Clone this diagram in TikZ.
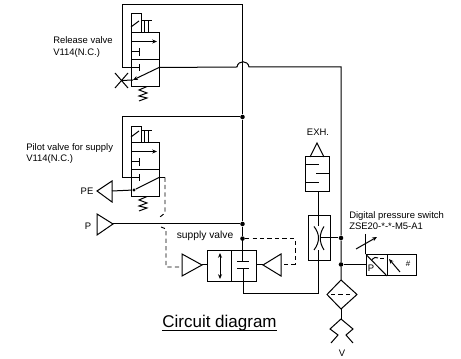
\documentclass[tikz,border=0pt]{standalone}
\usepackage{fontspec}
\setmainfont{Liberation Sans}
\usetikzlibrary{arrows.meta}

\tikzset{
  pipe/.style={black,line width=0.75pt},
  pilot/.style={black,line width=0.7pt,dash pattern=on 3.2pt off 2.4pt},
  junct/.style={circle,fill=black,minimum size=3.4pt,inner sep=0pt},
  lbl/.style={font=\fontsize{7.1}{8.6}\selectfont,align=left,inner sep=0pt},
  tip/.style={-{Stealth[length=3.6pt,width=3pt]}}
}

\begin{document}
\begin{tikzpicture}[x=0.75pt,y=-0.75pt]
\useasboundingbox (0,0) rectangle (461,359);
% junctions and pipe ends
\coordinate (topa) at (242.5,5);
\node [junct] (topb) at (242.5,117) {};
\node [junct] (jp) at (242.5,224) {};
\node [junct] (jsup) at (242.5,238.6) {};
\coordinate (mouth) at (242.5,262);
\node [junct] (jthr) at (341,238) {};
\node [junct] (jsw) at (341,264.5) {};
\coordinate (corner) at (341,67);
\coordinate (hopl) at (237,67);
\coordinate (hopr) at (249,67);
% the two small valves
\foreach \dy/\st/\n in {0/14/a,110/17/b} {
\begin{scope}[shift={(0,\dy)}]
\draw [pipe] (131,33) rectangle (159,86.5);
\draw [pipe] (131,59.5) -- (159,59.5);
\draw [pipe] (131,33) -- (131,\st) -- (141,\st) -- (141,33);
\draw [pipe] (131,27) -- (139,21);
\draw [pipe] (142,20.5) -- (152,20.5);
\draw [pipe] (144.5,20.5) -- (144.5,33);
\draw [pipe] (148,20.5) -- (148,33);
\draw [pipe,tip] (131,41.5) -- (157,41.5);
\draw [pipe] (131,52) -- (139,52);
\draw [pipe] (139,48) -- (139,56);
\draw [pipe] (139,64) -- (139,71);
\draw [pipe] (147,86.5) -- (139,90) -- (147,93) -- (139,96) -- (147,98) -- (139,101);
\coordinate (tee\n) at (139,67.5);
\coordinate (out\n) at (159,67.5);
\coordinate (seat\n) at (133,80);
\end{scope}
}
\coordinate (benda) at (122,5);
\coordinate (bendb) at (122,117);
\draw [pipe] (topa) -- (benda) |- (teea);
\draw [pipe] (topb) -- (bendb) |- (teeb);
% main line
\draw [pipe] (topa) -- (topb) -- (jp) -- (jsup) -- (mouth);
\draw [pipe,tip] (outa) -- (seata);
\draw [pipe] (outa) -- (hopl) .. controls (238,60) and (248,60) .. (hopr) -- (corner) -- (jthr) -- (jsw);
% release port
\coordinate (xmid) at (121.5,80.5);
\draw [pipe] (xmid) -- (seata);
\draw [pipe] (115,73) -- (128,88);
\draw [pipe] (115,88) -- (128,73);
% PE and P ports
\coordinate (pe) at (112,191);
\node [junct,minimum size=2.6pt] (seatp) at (134,190) {};
\draw [pipe] (97,191) -- (112,181) -- (112,202) -- cycle;
\draw [pipe] (pe) -- (seatp);
\draw [pipe] (seatp) -- (outb);
\coordinate (pin) at (113,224);
\draw [pipe] (97,214) -- (113,224) -- (97,235) -- cycle;
\draw [pipe] (pin) -- (jp);
\coordinate (dashb) at (165,177.5);
\draw [pipe] (outb) -- (dashb);
% supply valve
\draw [pipe] (207,251) rectangle (256,282);
\draw [pipe] (231.5,251) -- (231.5,282);
\draw [pipe,{Stealth[length=3.6pt,width=3pt]}-{Stealth[length=3.6pt,width=3pt]}] (220,253) -- (220,279);
\draw [pipe] (237,262) -- (249,262);
\draw [pipe] (237,269) -- (249,269);
\coordinate (lcone) at (202,265);
\coordinate (rcone) at (263,265);
\draw [pipe] (182,254) -- (202,265) -- (182,276) -- cycle;
\draw [pipe] (281,254) -- (263,265) -- (281,276) -- cycle;
\draw [pipe] (lcone) -- (207,265);
\draw [pipe] (rcone) -- (256,265);
\draw [pilot] (dashb) -- (165,213) -- (160,217);
\draw [pilot] (161,227) -- (166,229) -- (166,267) -- (182,267);
\draw [pilot] (jsup) -- (295,238.6) -- (295,264) -- (281,264);
% exhaust silencer
\coordinate (sil) at (318,192);
\draw [pipe] (310,157) -- (317,143) -- (324,157);
\draw [pipe] (305,157) rectangle (329,192);
\draw [pipe] (305,165) -- (319,165);
\draw [pipe] (316,174) -- (329,174);
\draw [pipe] (305,183) -- (319,183);
% throttle
\coordinate (thrt) at (318,226);
\coordinate (thrb) at (318,250);
\coordinate (thrr) at (321,238);
\draw [pipe] (308,216) rectangle (330,261);
\draw [pipe] (sil) -- (thrt);
\draw [pipe] (314,226.5) .. controls (320,234) and (320,242) .. (314,250);
\draw [pipe] (324,226.5) .. controls (319,234) and (319,242) .. (324,250);
\draw [pipe] (thrr) -- (jthr);
\draw [pipe] (243,269) |- (thrb |- 0,294) -- (thrb);
% pressure switch
\coordinate (swin) at (366,264.5);
\draw [pipe] (jsw) -- (swin);
\draw [pipe] (366,254.5) rectangle (416,276);
\draw [pipe] (387,254.5) -- (387,276);
\draw [pipe] (366,254.5) -- (387,276);
\draw [pipe] (365.5,234) -- (365.5,254.5);
\draw [pipe,tip] (356,249) -- (377,237);
\draw [pipe,tip] (400,272) -- (389,259);
\draw [pipe] (372,259.5) .. controls (374,257) and (376,257) .. (378,258);
\draw [pipe] (380,259) -- (384,259);
% filter and vacuum port
\coordinate (ftop) at (341,280);
\coordinate (fbot) at (341,309);
\coordinate (vjoin) at (341,319);
\draw [pipe] (jsw) -- (ftop) -- (357,294.5) -- (fbot) -- (327,294.5) -- (ftop);
\draw [pilot] (331,294.5) -- (353,294.5);
\draw [pipe] (fbot) -- (vjoin);
\draw [pipe] (331,343) -- (338,335) -- (330,329) -- (vjoin) -- (353,329) -- (346,335) -- (353,343);
% labels
\node [lbl,anchor=west] (lrel) at (53,47) {Release valve\\V114(N.C.)};
\node [lbl,anchor=west] (lpil) at (26,153.5) {Pilot valve for supply\\V114(N.C.)};
\node [lbl] (lpe) at (87,191) {PE};
\node [lbl] (lp) at (88,226) {P};
\node [lbl,font=\fontsize{7.7}{9}\selectfont] (lsup) at (205,236) {supply valve};
\node [lbl] (lexh) at (318,132) {EXH.};
\node [lbl,anchor=west] (lsw) at (349,220.5) {Digital pressure switch\\ZSE20-*-*-M5-A1};
\node [lbl] (lpp) at (371,268) {P};
\node [lbl,font=\fontsize{6}{7}\selectfont] (lhash) at (408,264) {\#};
\node [lbl] (lv) at (342,353) {V};
\node [lbl,font=\fontsize{12.75}{15}\selectfont] (lcir) at (219.5,323) {Circuit diagram};
\coordinate (uline) at (0,331);
\draw [pipe] (lcir.west |- uline) -- (lcir.east |- uline);
\end{tikzpicture}
\end{document}
